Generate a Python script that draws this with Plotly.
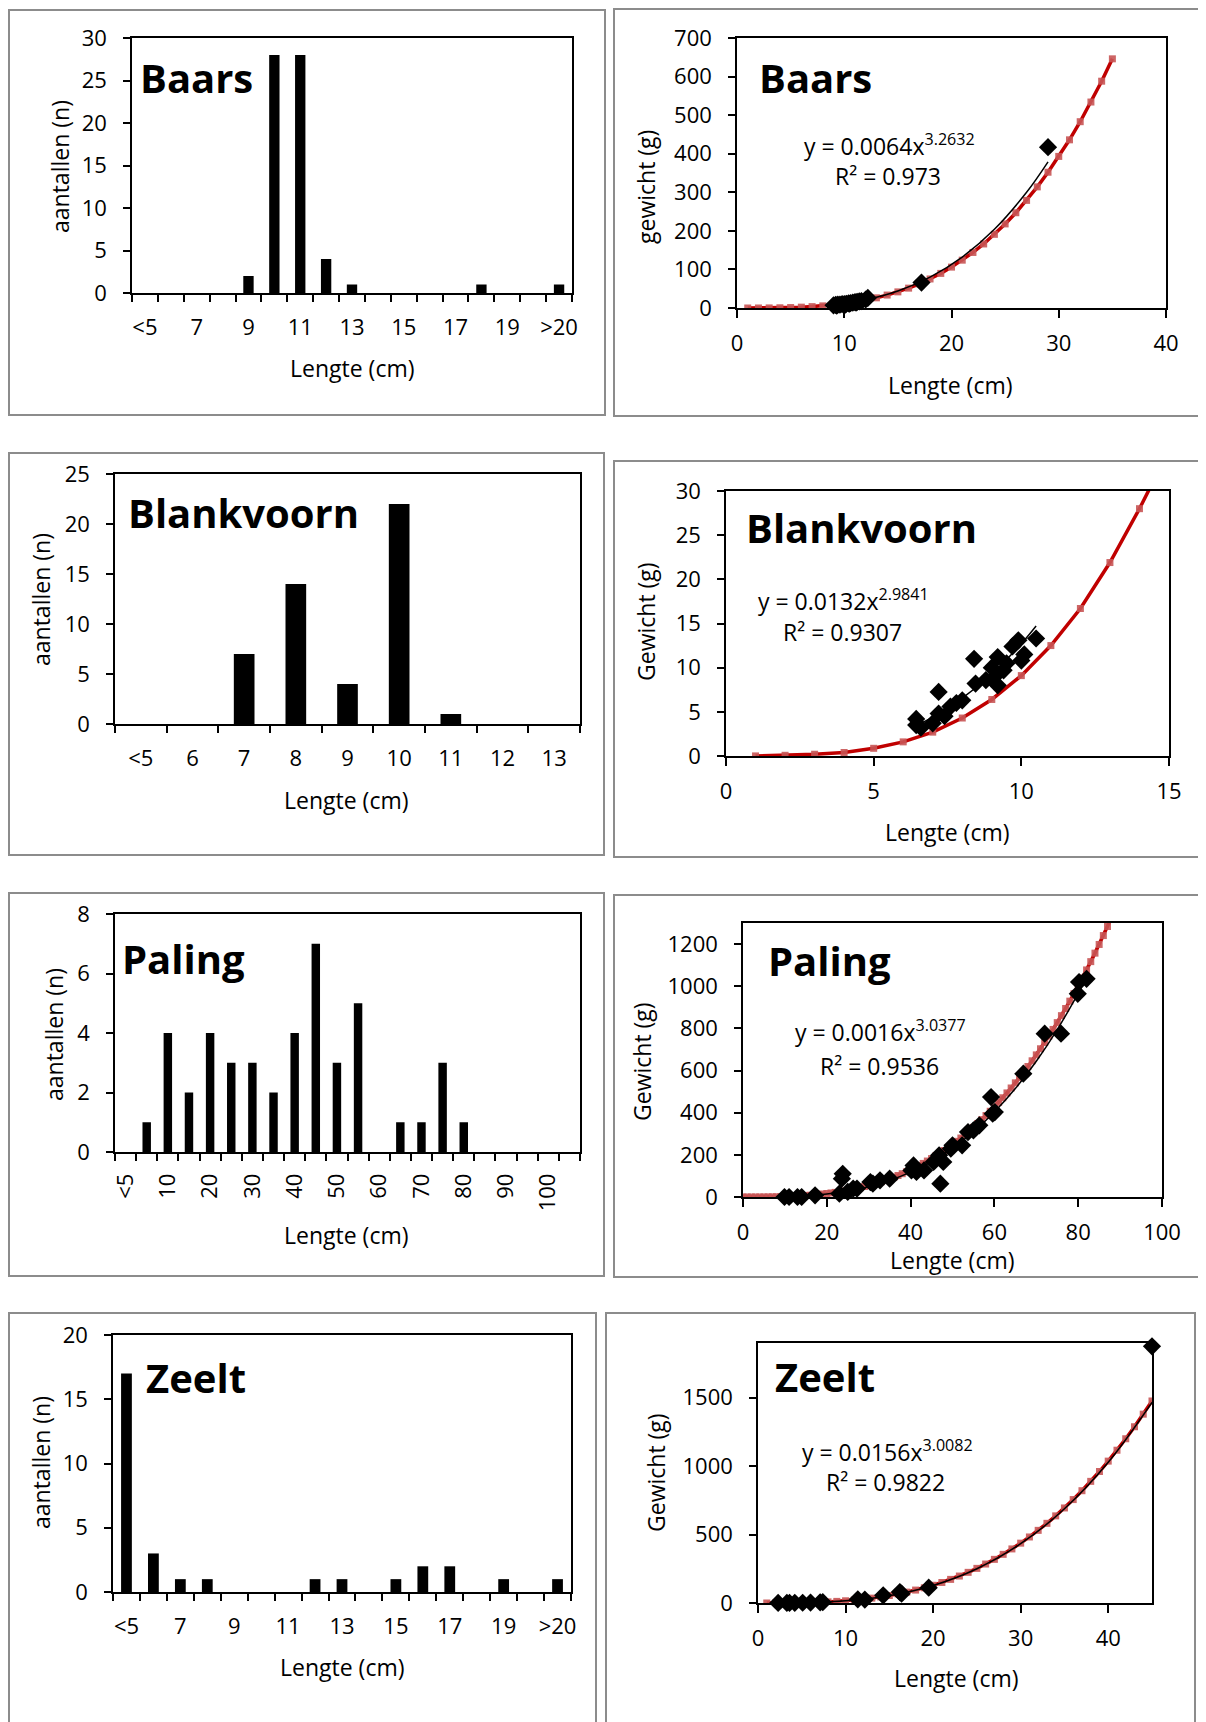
import plotly.graph_objects as go

# The page body has an 8px margin, so layout coordinates (given in window pixels)
# are shifted by that offset.
FW, FH = 1206, 1722
OX, OY = 8, 8
FONT = "Open Sans"

# ---------------- DATA ----------------
baars_cats = ["<5"] + [str(v) for v in range(6, 21)] + [">20"]
baars_counts = [0, 0, 0, 0, 2, 28, 28, 4, 1, 0, 0, 0, 0, 1, 0, 0, 1]
baars_shown = ["<5", "7", "9", "11", "13", "15", "17", "19", ">20"]

blank_cats = ["<5", "6", "7", "8", "9", "10", "11", "12", "13"]
blank_counts = [0, 0, 7, 14, 4, 22, 1, 0, 0]
blank_shown = blank_cats

paling_cats = ["<5"] + [str(v) for v in range(5, 101, 5)] + [">100"]
paling_counts = [0, 1, 4, 2, 4, 3, 3, 2, 4, 7, 3, 5, 0, 1, 1, 3, 1, 0, 0, 0, 0, 0]
paling_shown = ["<5", "10", "20", "30", "40", "50", "60", "70", "80", "90", "100"]

zeelt_cats = ["<5"] + [str(v) for v in range(6, 21)] + [">20"]
zeelt_counts = [17, 3, 1, 1, 0, 0, 0, 1, 1, 0, 1, 2, 2, 0, 1, 0, 1]
zeelt_shown = ["<5", "7", "9", "11", "13", "15", "17", "19", ">20"]

baars_len = [9.0, 9.2, 9.3, 9.4, 9.6, 9.8, 10.0, 10.1, 10.2, 10.4, 10.5, 10.6, 10.8, 11.0,
             11.1, 11.2, 11.4, 11.6, 12.0, 12.2, 17.2, 29.0]
baars_wt = [7, 8, 6, 9, 9, 10, 10, 9, 11, 12, 11, 13, 14, 15,
            14, 16, 17, 18, 22, 26, 66, 417]
baars_ref_len = list(range(1, 36))
baars_ref_wt = [0.007, 0.06, 0.23, 0.59, 1.2, 2.2, 3.6, 5.5, 8.0, 11.3, 15.4, 20.3, 26.4, 33.5,
                41.8, 51.5, 62.6, 75.3, 89.7, 106, 124, 144, 166, 191, 218, 247, 279, 314,
                352, 393, 436, 483, 534, 588, 646]
baars_fit_len = [9, 12, 15, 18, 21, 24, 27, 29]
baars_fit_wt = [8.3, 21.3, 44, 80, 132, 204, 300, 379]
baars_eq = ("0.0064", "3.2632", "0.973")

blank_len = [6.44, 6.44, 6.6, 7.0, 7.2, 7.2, 7.4, 7.6, 7.8, 8.0, 8.4, 8.45, 8.8, 9.0, 9.1,
             9.2, 9.2, 9.4, 9.5, 9.7, 9.9, 10.0, 10.1, 10.5]
blank_wt = [4.2, 3.5, 3.2, 3.7, 7.25, 4.8, 4.5, 5.6, 6.0, 6.3, 11.0, 8.2, 8.6, 10.0, 9.0,
            11.2, 8.0, 9.7, 10.5, 12.4, 13.1, 10.8, 11.5, 13.3]
blank_ref_len = list(range(1, 16))
blank_ref_wt = [0.01, 0.08, 0.2, 0.4, 0.87, 1.6, 2.7, 4.3, 6.4, 9.1, 12.5, 16.7, 21.9, 28.0, 34.6]
blank_fit_len = [6.5, 7, 8, 9, 10, 10.5]
blank_fit_wt = [3.52, 4.39, 6.54, 9.29, 12.72, 14.72]
blank_eq = ("0.0132", "2.9841", "0.9307")

paling_len = [9.9, 11, 13, 14, 17.2, 23, 23.8, 23.6, 25, 26.3, 27.2, 30.4, 31, 32.7, 35,
              40.2, 40.7, 41.4, 43.2, 45.5, 46.8, 47.1, 47.8, 49.6, 50, 52.3, 53.7, 55,
              56.4, 59.2, 60.1, 59.6, 66.9, 72, 75.9, 79.9, 80.2, 82]
paling_wt = [0, 0, 0, 0, 8, 16, 110, 87, 24, 40, 40, 71, 63, 79, 87,
             126, 150, 119, 126, 166, 198, 63, 166, 229, 245, 245, 308, 316,
             340, 474, 403, 395, 585, 775, 775, 964, 1020, 1035]
paling_ref_len = list(range(0, 89))
paling_ref_wt = [0, 0.002, 0.018, 0.06, 0.14, 0.27, 0.47, 0.74, 1.1, 1.56, 2.13, 2.82, 3.65,
                 4.61, 5.74, 7.05, 8.52, 10.2, 12.1, 14.2, 16.5, 19.1, 21.9, 25.0, 28.4, 32.0,
                 35.9, 40.2, 44.7, 49.7, 54.9, 60.5, 66.5, 72.8, 79.5, 86.6, 94.2, 102.1,
                 110.5, 119.4, 128.6, 138.4, 148.6, 159.3, 170.6, 182.3, 194.6, 207.4, 220.7,
                 234.7, 249.1, 264.1, 279.8, 296.0, 312.9, 330.4, 348.4, 367.2, 386.5, 406.7,
                 427.2, 448.7, 470.9, 493.8, 517.2, 541.6, 566.7, 592.5, 619.1, 646.2, 674.3,
                 703.3, 733.1, 763.6, 795.0, 827.3, 860.4, 894.3, 929.2, 964.9, 1001.5,
                 1039.0, 1077.4, 1116.7, 1157.0, 1198.2, 1240.3, 1283.4, 1327.5]
paling_fit_len = [10, 15, 20, 25, 30, 35, 40, 45, 50, 55, 60, 65, 70, 75, 80, 82]
paling_fit_wt = [1.75, 5.98, 14.3, 28.2, 49.1, 78.5, 117.7, 168.3, 231.8, 309.6, 403.3,
                 514.4, 644.3, 794.4, 966.3, 1041.5]
paling_eq = ("0.0016", "3.0377", "0.9536")

zeelt_len = [2.3, 3.3, 3.6, 4.2, 5.1, 6.0, 7.1, 7.4, 11.4, 12.2, 14.3, 16.2, 16.4, 19.5, 45.0]
zeelt_wt = [0.2, 0.5, 0.7, 1, 2, 3, 5, 6, 27, 25, 56, 80, 68, 112, 1876]
zeelt_ref_len = list(range(1, 46))
zeelt_ref_wt = [0.016, 0.13, 0.44, 1.04, 2.03, 3.5, 5.56, 8.29, 11.8, 16.2, 21.6, 28.0, 35.6,
                44.5, 54.7, 66.4, 79.6, 94.5, 111.1, 129.6, 150.0, 172.5, 197.1, 224.0,
                253.1, 284.7, 318.9, 355.6, 395.1, 437.4, 482.6, 530.8, 582.2, 636.7, 694.6,
                755.8, 820.6, 888.9, 960.9, 1036.8, 1116.5, 1200.2, 1288.0, 1380.0, 1476.2]
zeelt_fit_len = [2, 5, 10, 15, 20, 25, 30, 35, 40, 45]
zeelt_fit_wt = [0.126, 1.98, 15.9, 53.8, 127.9, 250.3, 433.1, 688.6, 1029.1, 1466.6]
zeelt_eq = ("0.0156", "3.0082", "0.9822")

# ---------------- LAYOUT HELPERS ----------------
def px(x):
    return (x - OX) / FW


def py(y):
    return 1 - (y - OY) / FH


fig = go.Figure()
layout = dict(
    template="none",
    width=FW, height=FH, margin=dict(l=0, r=0, t=0, b=0, pad=0, autoexpand=False),
    autosize=False, paper_bgcolor="white", plot_bgcolor="white", showlegend=False,
    bargap=0.6, font=dict(family=FONT, size=22, color="black"),
)
annotations = []
shapes = []

TICKFONT = dict(family=FONT, size=22, color="black")
AX = dict(showgrid=False, zeroline=False, showline=True, linecolor="black", linewidth=1.5,
          mirror=True, ticks="outside", ticklen=7, tickwidth=1.5, tickcolor="black",
          tickfont=TICKFONT, automargin=False)


def add_box(x0, y0, x1, y1):
    shapes.append(dict(type="rect", xref="paper", yref="paper", x0=px(x0), x1=px(x1),
                       y0=py(y1), y1=py(y0), line=dict(color="#8c8c8c", width=2),
                       layer="below"))


def txt(x, y, text, size=23, xanchor="center", angle=0, bold=False):
    annotations.append(dict(x=px(x), y=py(y), xref="paper", yref="paper",
                            text=(f"<b>{text}</b>" if bold else text),
                            showarrow=False, xanchor=xanchor, yanchor="middle", textangle=angle,
                            font=dict(family=FONT, size=size, color="black")))


def hist_panel(i, cats, counts, shown, dom, ymax, dtick, name, title_pos, xt_pos, yt_pos,
               tickangle=0, standoff_x=14):
    fig.add_trace(go.Bar(x=cats, y=counts, marker=dict(color="black", line=dict(width=0)),
                         xaxis=f"x{i}", yaxis=f"y{i}"))
    l, t, r, b = dom
    layout[f"xaxis{i}"] = dict(AX, domain=[px(l), px(r)], anchor=f"y{i}", type="category",
                               range=[-0.5, len(cats) - 0.5], tickmode="array", tickvals=cats,
                               ticktext=[c if c in shown else "" for c in cats],
                               tickson="boundaries", tickangle=tickangle,
                               ticklabelstandoff=standoff_x)
    layout[f"yaxis{i}"] = dict(AX, domain=[py(b), py(t)], anchor=f"x{i}", range=[0, ymax],
                               dtick=dtick, ticklabelstandoff=12)
    txt(title_pos[0], title_pos[1], name, size=40, xanchor="left", bold=True)
    txt(xt_pos[0], xt_pos[1], "Lengte (cm)")
    txt(yt_pos[0], yt_pos[1], "aantallen (n)", angle=-90)


def scat_panel(i, lens, wts, rl, rw, fl, fw, eq, dom, xr, xd, yr, yd, name, title_pos,
               eq_pos, r2_pos, xt_pos, yt_pos, ytitle):
    l, t, r, b = dom
    common = dict(xaxis=f"x{i}", yaxis=f"y{i}")
    fig.add_trace(go.Scatter(x=rl, y=rw, mode="lines+markers",
                             line=dict(color="#C00000", width=3.5),
                             marker=dict(symbol="square", size=7, color="rgba(200,85,85,0.9)",
                                         line=dict(width=0)), **common))
    fig.add_trace(go.Scatter(x=fl, y=fw, mode="lines",
                             line=dict(color="black", width=1.5, shape="spline"), **common))
    fig.add_trace(go.Scatter(x=lens, y=wts, mode="markers", cliponaxis=False,
                             marker=dict(symbol="diamond", size=14, color="black",
                                         line=dict(width=0)), **common))
    layout[f"xaxis{i}"] = dict(AX, domain=[px(l), px(r)], anchor=f"y{i}", range=xr, dtick=xd,
                               tick0=0, ticklen=8, ticklabelstandoff=7)
    layout[f"yaxis{i}"] = dict(AX, domain=[py(b), py(t)], anchor=f"x{i}", range=yr, dtick=yd,
                               tick0=0, ticklabelstandoff=12)
    txt(title_pos[0], title_pos[1], name, size=40, xanchor="left", bold=True)
    txt(eq_pos[0], eq_pos[1], f"y = {eq[0]}x<sup>{eq[1]}</sup>", xanchor="left")
    txt(r2_pos[0], r2_pos[1], f"R² = {eq[2]}", xanchor="left")
    txt(xt_pos[0], xt_pos[1], "Lengte (cm)")
    txt(yt_pos[0], yt_pos[1], ytitle, angle=-90)


add_box(9, 10, 605, 415)
add_box(614, 9, 1300, 416)
add_box(9, 453, 604, 855)
add_box(614, 461, 1300, 857)
add_box(9, 893, 604, 1276)
add_box(614, 895, 1300, 1277)
add_box(9, 1313, 596, 1800)
add_box(606, 1313, 1195, 1800)

hist_panel(1, baars_cats, baars_counts, baars_shown, (132, 38, 572, 293), 30, 5, "Baars",
           (138, 77), (352, 368), (60, 167))
scat_panel(2, baars_len, baars_wt, baars_ref_len, baars_ref_wt, baars_fit_len, baars_fit_wt,
           baars_eq, (737, 38, 1166, 308), [0, 40], 10, [0, 700], 100, "Baars", (757, 77),
           (802, 145), (833, 176), (950, 385), (646, 187), "gewicht (g)")

hist_panel(3, blank_cats, blank_counts, blank_shown, (115, 474, 580, 724), 25, 5, "Blankvoorn",
           (126, 512), (346, 800), (41, 600))
scat_panel(4, blank_len, blank_wt, blank_ref_len, blank_ref_wt, blank_fit_len, blank_fit_wt,
           blank_eq, (726, 491, 1169, 756), [0, 15], 5, [0, 30], 5, "Blankvoorn", (744, 528),
           (756, 600), (781, 632), (947, 832), (646, 622), "Gewicht (g)")

hist_panel(5, paling_cats, paling_counts, paling_shown, (115, 914, 580, 1152), 8, 2, "Paling",
           (120, 958), (346, 1235), (54, 1035), tickangle=-90, standoff_x=11)
scat_panel(6, paling_len, paling_wt, paling_ref_len, paling_ref_wt, paling_fit_len,
           paling_fit_wt, paling_eq, (743, 923, 1162, 1197), [0, 100], 20, [0, 1300], 200,
           "Paling", (766, 960), (793, 1031), (818, 1066), (952, 1260), (642, 1062),
           "Gewicht (g)")

hist_panel(7, zeelt_cats, zeelt_counts, zeelt_shown, (113, 1335, 571, 1592), 20, 5, "Zeelt",
           (144, 1377), (342, 1667), (41, 1463))
scat_panel(8, zeelt_len, zeelt_wt, zeelt_ref_len, zeelt_ref_wt, zeelt_fit_len, zeelt_fit_wt,
           zeelt_eq, (758, 1343, 1152, 1603), [0, 45], 10, [0, 1900], 500, "Zeelt", (773, 1376),
           (800, 1451), (824, 1482), (956, 1678), (656, 1473), "Gewicht (g)")

layout["annotations"] = annotations
layout["shapes"] = shapes
fig.update_layout(**layout)
fig.write_html("out.html")
